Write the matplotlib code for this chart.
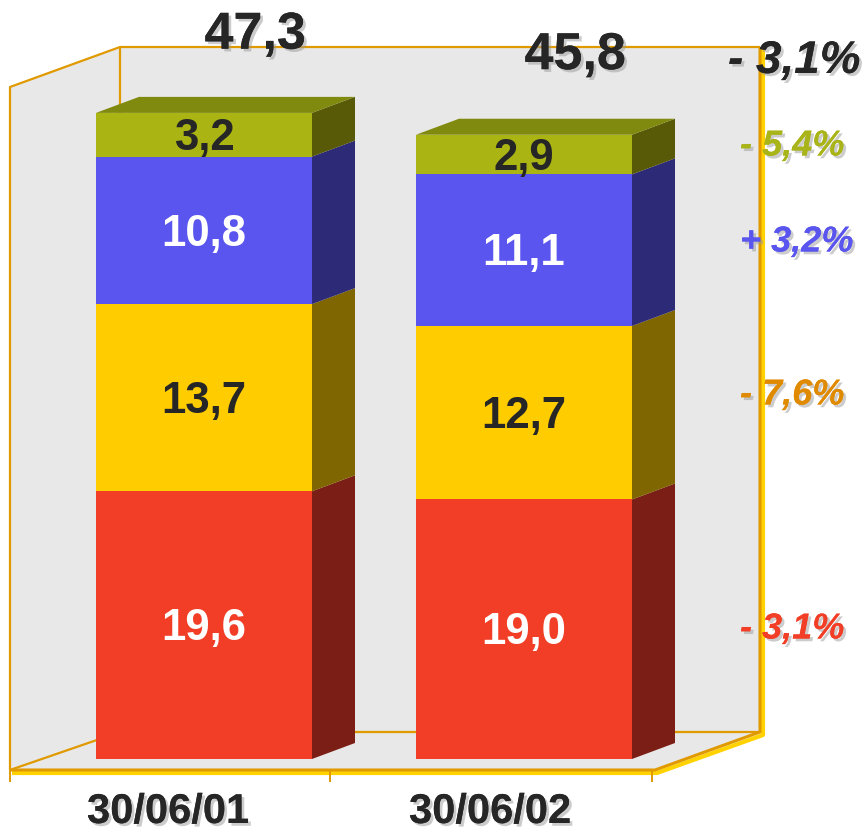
import matplotlib
matplotlib.use("Agg")
import matplotlib.pyplot as plt
from matplotlib.patches import Polygon
import matplotlib.patheffects as pe
import numpy as np

# ---- data ----
categories = ["30/06/01", "30/06/02"]
series_names = ["red", "yellow", "blue", "olive"]
red_vals = [19.6, 19.0]
yellow_vals = [13.7, 12.7]
blue_vals = [10.8, 11.1]
olive_vals = [3.2, 2.9]
totals = [47.3, 45.8]
seg_labels = [["19,6", "19,0"], ["13,7", "12,7"], ["10,8", "11,1"], ["3,2", "2,9"]]
total_labels = ["47,3", "45,8"]
pct_labels = ["- 3,1%", "- 5,4%", "+ 3,2%", "- 7,6%", "- 3,1%"]

front_cols = ["#F23E26", "#FFCC00", "#5A55EE", "#AAB514"]
side_cols = ["#7B1F16", "#806600", "#2D2B77", "#595A08"]
top_col = "#808A0E"
label_cols = ["white", "#262626", "white", "#262626"]
pct_cols = ["#262626", "#A9B419", "#5A55EE", "#E08A00", "#F23E26"]

W, H = 868, 837
fig = plt.figure(figsize=(W / 100, H / 100), dpi=100)
ax = fig.add_axes([0, 0, 1, 1])
S = 13.66          # px per unit
BASE = 760         # px of zero
XC0, XS = 204, 320  # px of first category centre, px per category
ax.set_xlim((0 - XC0) / XS, (W - XC0) / XS)
ax.set_ylim((BASE - H) / S, BASE / S)
ax.axis("off")

def P(px, py):
    return ((px - XC0) / XS, (BASE - py) / S)

wall_col = "#E8E8E8"
edge = "#E09A00"
# back wall, left wall, floor
ax.add_patch(Polygon([P(120, 48), P(760, 48), P(760, 733), P(120, 733)], closed=True,
                     fc=wall_col, ec="none", zorder=0))
ax.add_patch(Polygon([P(10, 88), P(120, 48), P(120, 733), P(10, 771)], closed=True,
                     fc=wall_col, ec="none", zorder=0))
ax.add_patch(Polygon([P(10, 771), P(120, 733), P(760, 733), P(655, 771)], closed=True,
                     fc=wall_col, ec="none", zorder=0))
def line(pts, lw=1.6, c=edge, z=1):
    xs, ys = zip(*[P(*p) for p in pts])
    ax.plot(xs, ys, color=c, lw=lw, zorder=z, solid_capstyle="butt")
line([(120, 733), (120, 48), (760, 48)])
line([(10, 771), (10, 88), (120, 48)])
line([(10, 771), (120, 733), (760, 733)])
# shadowed front / right edges
line([(12, 774), (657, 774), (763, 736), (763, 50)], lw=3, c="#FFD200", z=1)
line([(10, 771), (655, 771), (760, 733), (760, 48)], lw=2.2, c=edge, z=2)
for tx in (10, 330, 652):
    line([(tx, 771), (tx, 783)], lw=1.4)

# ---- bars ----
x = np.arange(len(categories))
bw = 216 / XS
ddx, ddy = 43 / XS, 16 / S
series = [red_vals, yellow_vals, blue_vals, olive_vals]
bottom = np.zeros(len(categories))
for i, vals in enumerate(series):
    vals = np.array(vals)
    ax.bar(x, vals, bottom=bottom, width=bw, color=front_cols[i], zorder=3)
    for j in range(len(x)):
        r = x[j] + bw / 2
        b, t = bottom[j], bottom[j] + vals[j]
        ax.add_patch(Polygon([(r, b), (r + ddx, b + ddy), (r + ddx, t + ddy), (r, t)],
                             closed=True, fc=side_cols[i], ec="none", zorder=3))
        if i == len(series) - 1:
            l = x[j] - bw / 2
            ax.add_patch(Polygon([(l, t), (r, t), (r + ddx, t + ddy), (l + ddx, t + ddy)],
                                 closed=True, fc=top_col, ec="none", zorder=3))
        ax.text(x[j], b + vals[j] / 2 - 0.2, seg_labels[i][j], ha="center", va="center",
                fontsize=31.5, fontweight="bold", color=label_cols[i],
                family="Liberation Sans", zorder=5)
    bottom = bottom + vals

shadow = [pe.withSimplePatchShadow(offset=(2, -2), shadow_rgbFace="#9a9a9a", alpha=0.5), pe.Normal()]
for j in range(len(x)):
    ax.text(x[j] + 0.16, totals[j] + 4.7, total_labels[j], ha="center", va="baseline",
            fontsize=37.5, fontweight="bold", color="#262626", family="Liberation Sans",
            zorder=5, path_effects=shadow)

# category labels
for j in range(len(x)):
    px = 168 + 322 * j
    ax.text(*P(px, 813), categories[j], ha="center", va="center", fontsize=30,
            fontweight="bold", color="#262626",
            family="Liberation Sans", path_effects=shadow)

# percentage annotations
pct_pos = [(728, 62, 33), (740, 147, 26), (740, 243, 26), (740, 396, 26), (740, 630, 26)]
for k, lab in enumerate(pct_labels):
    px, py, fs = pct_pos[k]
    ax.text(*P(px, py), lab, ha="left", va="center", fontsize=fs, fontweight="bold",
            style="italic", color=pct_cols[k], family="Liberation Sans", zorder=5,
            path_effects=shadow)

fig.savefig("out.png", dpi=100)
